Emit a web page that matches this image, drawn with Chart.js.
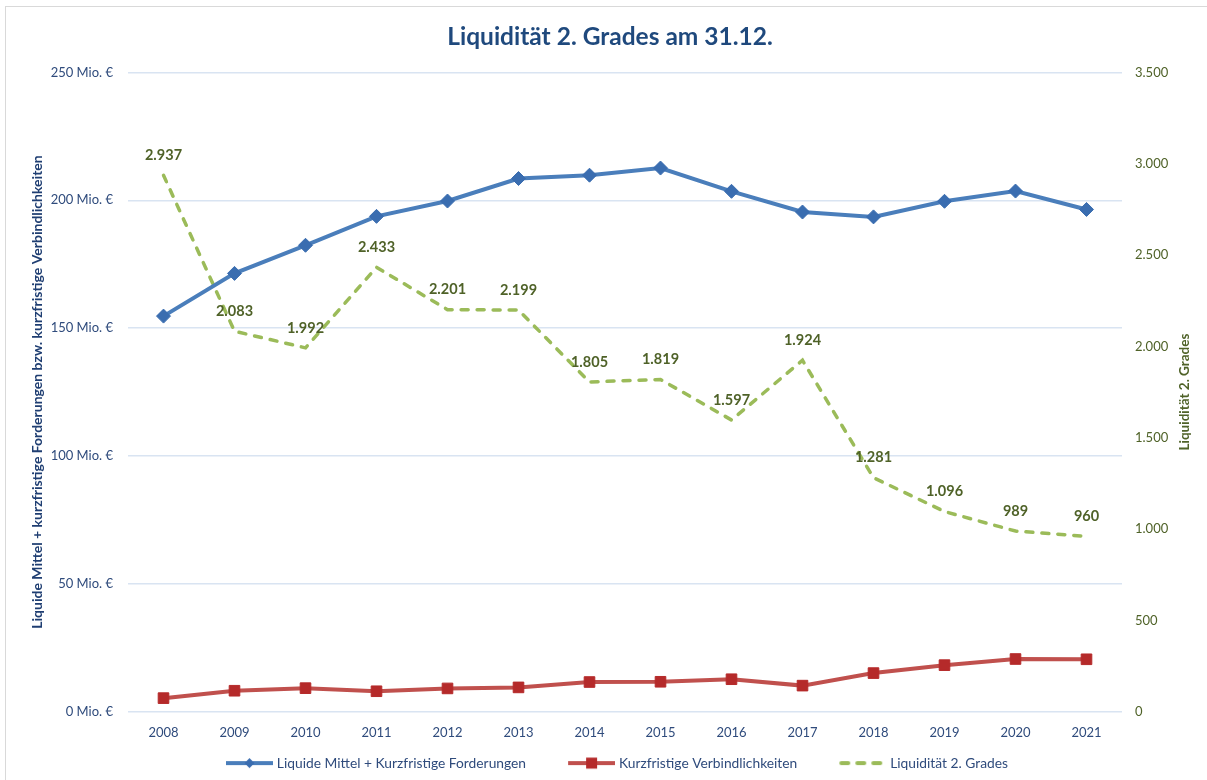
<!DOCTYPE html>
<html lang="de">
<head>
<meta charset="utf-8">
<title>Liquidität 2. Grades am 31.12.</title>
<script src="https://cdn.jsdelivr.net/npm/chart.js@4.4.1/dist/chart.umd.min.js"></script>
<style>
    html, body { margin: 0; padding: 0; background: #fff; }
    #wrap { width: 1207px; height: 780px; }
</style>
</head>
<body>
<div id="wrap"><canvas id="liquiChart" width="1207" height="780"></canvas></div>
<script>
// --- data ---
const years = ['2008', '2009', '2010', '2011', '2012', '2013', '2014', '2015', '2016', '2017', '2018', '2019', '2020', '2021'];
// Mio. €
const liquideMittel = [154.7, 171.4, 182.4, 193.7, 199.7, 208.5, 209.8, 212.6, 203.5, 195.4, 193.5, 199.6, 203.6, 196.4];
const kurzfristigeVerbindl = [5.3, 8.2, 9.2, 8.0, 9.1, 9.5, 11.6, 11.7, 12.7, 10.2, 15.1, 18.2, 20.6, 20.5];
// Liquidität 2. Grades (right axis)
const liquiditaet2 = [2937, 2083, 1992, 2433, 2201, 2199, 1805, 1819, 1597, 1924, 1281, 1096, 989, 960];

const leftTicks = [0, 50, 100, 150, 200, 250];
const rightTicks = [0, 500, 1000, 1500, 2000, 2500, 3000, 3500];

const FONT = 'Lato, "Open Sans", sans-serif';
const BLUE = '#4a7ebb';
const RED = '#c0504d';
const GREEN = '#9bbb59';
const OLIVE = '#4f6228';
const NAVY = '#2f4b7c';

// German thousands separator
function fmtDe(n) {
    return String(Math.round(n)).replace(/\B(?=(\d{3})+(?!\d))/g, '.');
}

// --- legend markers (line + marker), drawn into small canvases ---
function legendMarker(kind) {
    const c = document.createElement('canvas');
    c.width = 86; c.height = 14;
    const g = c.getContext('2d');
    const x0 = 39, x1 = 86, cy = 7;
    g.lineWidth = 4;
    if (kind === 'blue') {
        g.strokeStyle = BLUE;
        g.beginPath(); g.moveTo(x0, cy); g.lineTo(x1, cy); g.stroke();
        g.fillStyle = '#3a6db0';
        g.beginPath();
        g.moveTo(62.5, cy - 5); g.lineTo(67.5, cy); g.lineTo(62.5, cy + 5); g.lineTo(57.5, cy);
        g.closePath(); g.fill();
    } else if (kind === 'red') {
        g.strokeStyle = RED;
        g.beginPath(); g.moveTo(x0, cy); g.lineTo(x1, cy); g.stroke();
        g.fillStyle = '#b52a2a';
        g.fillRect(57, cy - 5.5, 11, 11);
    } else {
        g.strokeStyle = GREEN;
        g.lineCap = 'round';
        g.setLineDash([7, 9]);
        g.beginPath(); g.moveTo(x0 + 2, cy); g.lineTo(x1, cy); g.stroke();
    }
    return c;
}
const legendImages = [legendMarker('blue'), legendMarker('red'), legendMarker('green')];

// --- plugins ---
const frame = {
    id: 'frame',
    beforeDraw(chart) {
        const ctx = chart.ctx;
        ctx.save();
        ctx.fillStyle = '#fff';
        ctx.fillRect(0, 0, chart.width, chart.height);
        ctx.strokeStyle = '#d9d9d9';
        ctx.lineWidth = 1;
        ctx.strokeRect(5.5, 6.5, chart.width + 20, chart.height + 20);
        ctx.restore();
    }
};

// title sits a little right of the canvas centre in the original
const titleShift = {
    id: 'titleShift',
    afterLayout(chart) {
        chart.titleBlock.left += 11;
        chart.titleBlock.right += 11;
    }
};

const valueLabels = {
    id: 'valueLabels',
    afterDatasetsDraw(chart) {
        const ctx = chart.ctx;
        const meta = chart.getDatasetMeta(2);
        ctx.save();
        ctx.font = 'bold 14.5px ' + FONT;
        ctx.fillStyle = OLIVE;
        ctx.textAlign = 'center';
        ctx.textBaseline = 'middle';
        meta.data.forEach((pt, i) => {
            ctx.fillText(fmtDe(liquiditaet2[i]), pt.x, pt.y - 20);
        });
        ctx.restore();
    }
};

// right axis title reads bottom-to-top like the left one
const rightTitle = {
    id: 'rightTitle',
    afterDraw(chart) {
        const ctx = chart.ctx;
        const area = chart.chartArea;
        ctx.save();
        ctx.translate(1185, (area.top + area.bottom) / 2);
        ctx.rotate(-Math.PI / 2);
        ctx.font = 'bold 13.5px ' + FONT;
        ctx.fillStyle = OLIVE;
        ctx.textAlign = 'center';
        ctx.textBaseline = 'middle';
        ctx.fillText('Liquidität 2. Grades', 0, 0);
        ctx.restore();
    }
};

// --- chart ---
const ctx = document.getElementById('liquiChart').getContext('2d');
new Chart(ctx, {
    type: 'line',
    data: {
        labels: years,
        datasets: [
            {
                label: 'Liquide Mittel + Kurzfristige Forderungen',
                data: liquideMittel,
                yAxisID: 'y',
                borderColor: BLUE,
                borderWidth: 4,
                pointStyle: 'rectRot',
                pointRadius: 7,
                pointBackgroundColor: '#3a6db0',
                pointBorderColor: '#3a6db0',
                pointBorderWidth: 1,
                tension: 0
            },
            {
                label: 'Kurzfristige Verbindlichkeiten',
                data: kurzfristigeVerbindl,
                yAxisID: 'y',
                borderColor: RED,
                borderWidth: 4,
                pointStyle: 'rect',
                pointRadius: 7.5,
                pointBackgroundColor: '#b52a2a',
                pointBorderColor: '#b52a2a',
                pointBorderWidth: 1,
                tension: 0
            },
            {
                label: 'Liquidität 2. Grades',
                data: liquiditaet2,
                yAxisID: 'y1',
                borderColor: GREEN,
                borderWidth: 3.5,
                borderDash: [7, 9],
                borderCapStyle: 'round',
                pointRadius: 0,
                tension: 0
            }
        ]
    },
    options: {
        responsive: false,
        animation: false,
        layout: { padding: { left: 10, right: 19, top: 0, bottom: 0 } },
        plugins: {
            title: {
                display: true,
                text: 'Liquidität 2. Grades am 31.12.',
                color: '#1f497d',
                font: { family: FONT, size: 24.5, weight: 'bold' },
                padding: { top: 22, bottom: 21 }
            },
            legend: {
                position: 'bottom',
                labels: {
                    usePointStyle: true,
                    pointStyleWidth: 80,
                    padding: 6,
                    color: NAVY,
                    font: { family: FONT, size: 13.8 },
                    generateLabels(chart) {
                        const items = Chart.defaults.plugins.legend.labels.generateLabels(chart);
                        items.forEach((it, i) => { it.pointStyle = legendImages[i]; });
                        return items;
                    }
                }
            },
            tooltip: { enabled: false }
        },
        scales: {
            x: {
                offset: true,
                grid: { display: false },
                border: { display: false },
                ticks: { color: NAVY, font: { family: FONT, size: 13 }, padding: 5 },
                afterFit(scale) { scale.height = 38.5; }
            },
            y: {
                position: 'left',
                min: 0,
                max: 250,
                afterBuildTicks(scale) { scale.ticks = leftTicks.map(v => ({ value: v })); },
                grid: { color: '#d9e4f2', lineWidth: 1.5, drawTicks: false },
                border: { display: false },
                ticks: {
                    color: NAVY,
                    font: { family: FONT, size: 13 },
                    padding: 15,
                    callback: v => v + ' Mio. €'
                },
                title: {
                    display: true,
                    text: 'Liquide Mittel + kurzfristige Forderungen bzw. kurzfristige Verbindlichkeiten',
                    color: '#1f3e72',
                    font: { family: FONT, size: 14, weight: 'bold' },
                    padding: { top: 19, bottom: 0 }
                },
                afterFit(scale) { scale.width = 118; }
            },
            y1: {
                position: 'right',
                min: 0,
                max: 3500,
                afterBuildTicks(scale) { scale.ticks = rightTicks.map(v => ({ value: v })); },
                grid: { display: false, drawTicks: false },
                border: { display: false },
                ticks: {
                    color: OLIVE,
                    font: { family: FONT, size: 13 },
                    padding: 13,
                    callback: v => fmtDe(v)
                },
                afterFit(scale) { scale.width = 66; }
            }
        }
    },
    plugins: [frame, titleShift, valueLabels, rightTitle]
});
</script>
</body>
</html>
